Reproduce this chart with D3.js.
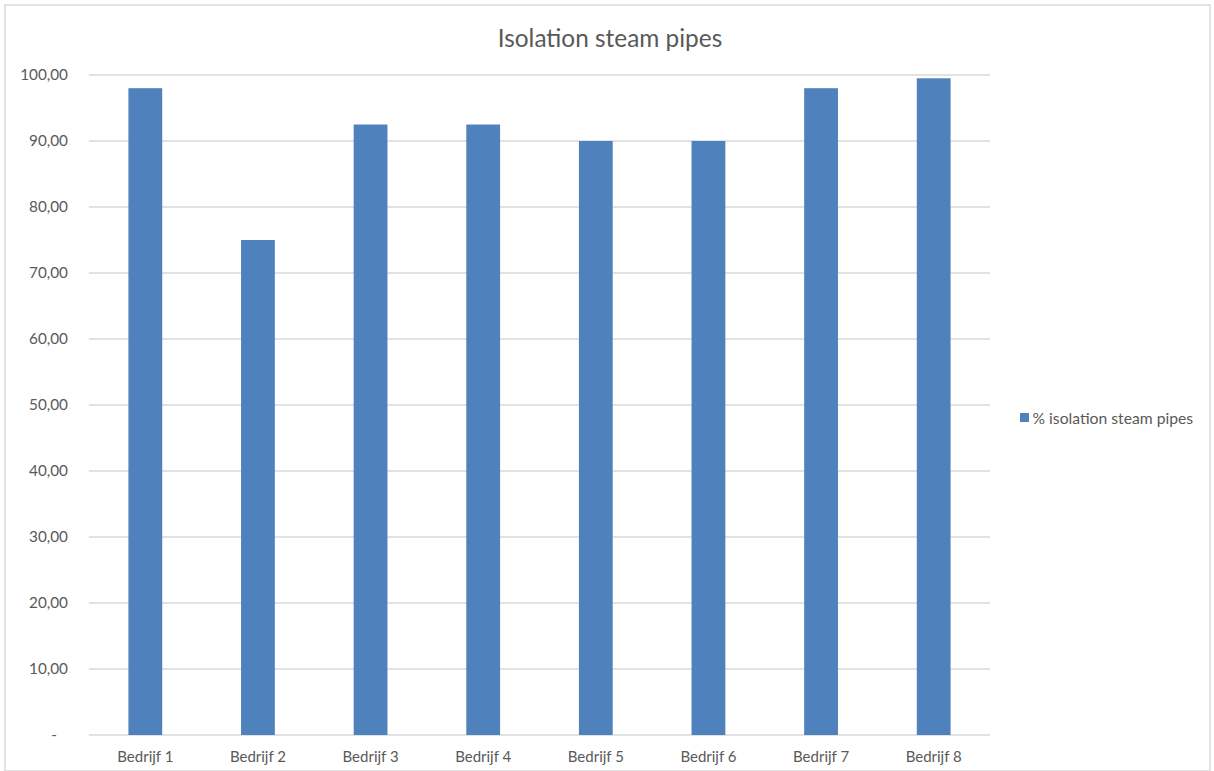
<!DOCTYPE html>
<html>
<head>
<meta charset="utf-8">
<script src="https://cdn.jsdelivr.net/npm/d3@7"></script>
<style>
  html, body { margin: 0; padding: 0; background: #fff; }
  svg { display: block; font-family: Lato, "Open Sans", sans-serif; }
</style>
</head>
<body>
<svg id="chart" width="1214" height="771"></svg>
<script>
// Company names along the x axis
const categories = ["Bedrijf 1", "Bedrijf 2", "Bedrijf 3", "Bedrijf 4", "Bedrijf 5", "Bedrijf 6", "Bedrijf 7", "Bedrijf 8"];
// Share of insulated steam pipes per company (%)
const isolationValues = [98.0, 75.0, 92.5, 92.5, 90.0, 90.0, 98.0, 99.5];
const seriesName = "% isolation steam pipes";
const yTicks = [0, 10, 20, 30, 40, 50, 60, 70, 80, 90, 100];
const chartTitle = "Isolation steam pipes";

const svg = d3.select("#chart");
const W = 1214, H = 771;
const margin = { left: 89, right: 224, top: 75, bottom: 36 };
const plotW = W - margin.left - margin.right;
const plotH = H - margin.top - margin.bottom;
const textColor = "#595959";
const barColor = "#4f81bd";

// Outer chart frame
svg.append("rect")
  .attr("x", 5).attr("y", 5)
  .attr("width", W - 9).attr("height", H - 5)
  .attr("fill", "#fff")
  .attr("stroke", "#d9d9d9").attr("stroke-width", 1.5);

const x = d3.scaleBand().domain(categories).range([0, plotW]).paddingInner(0.7).paddingOuter(0.35);
const y = d3.scaleLinear().domain([0, 100]).range([plotH, 0]);

const g = svg.append("g").attr("transform", `translate(${margin.left},${margin.top})`);

// Horizontal gridlines
g.append("g").selectAll("line").data(yTicks).join("line")
  .attr("x1", 0).attr("x2", plotW)
  .attr("y1", d => y(d)).attr("y2", d => y(d))
  .attr("stroke", "#d9d9d9").attr("stroke-width", 1.5);

// Y axis labels
const fmt = d => d === 0 ? "-" : d3.format(".2f")(d).replace(".", ",");
const yAxis = g.append("g").attr("transform", "translate(-21,0)")
  .call(d3.axisLeft(y).tickValues(yTicks).tickFormat(fmt).tickSize(0).tickPadding(0));
yAxis.select(".domain").remove();
yAxis.selectAll("text").attr("fill", textColor).attr("font-size", 15.3)
  .attr("font-family", "Lato, 'Open Sans', sans-serif")
  .attr("dx", d => d === 0 ? -11 : 0);

// Bars
g.append("g").selectAll("rect").data(categories).join("rect")
  .attr("x", d => x(d))
  .attr("y", (d, i) => y(isolationValues[i]))
  .attr("width", x.bandwidth())
  .attr("height", (d, i) => plotH - y(isolationValues[i]))
  .attr("fill", barColor);

// X axis labels
const xAxis = g.append("g").attr("transform", `translate(0,${plotH})`)
  .call(d3.axisBottom(x).tickSize(0).tickPadding(16));
xAxis.select(".domain").remove();
xAxis.selectAll("text").attr("fill", textColor).attr("font-size", 15)
  .attr("font-family", "Lato, 'Open Sans', sans-serif");

// Title
svg.append("text")
  .attr("x", 610).attr("y", 47)
  .attr("text-anchor", "middle")
  .attr("fill", textColor).attr("font-size", 24.4)
  .text(chartTitle);

// Legend
const legend = svg.append("g").attr("transform", "translate(1020,418)");
legend.append("rect").attr("x", 0).attr("y", -5).attr("width", 9).attr("height", 9).attr("fill", barColor);
legend.append("text").attr("x", 12.5).attr("y", 0).attr("dy", "0.35em")
  .attr("fill", textColor).attr("font-size", 15.7).text(seriesName);
</script>
</body>
</html>
